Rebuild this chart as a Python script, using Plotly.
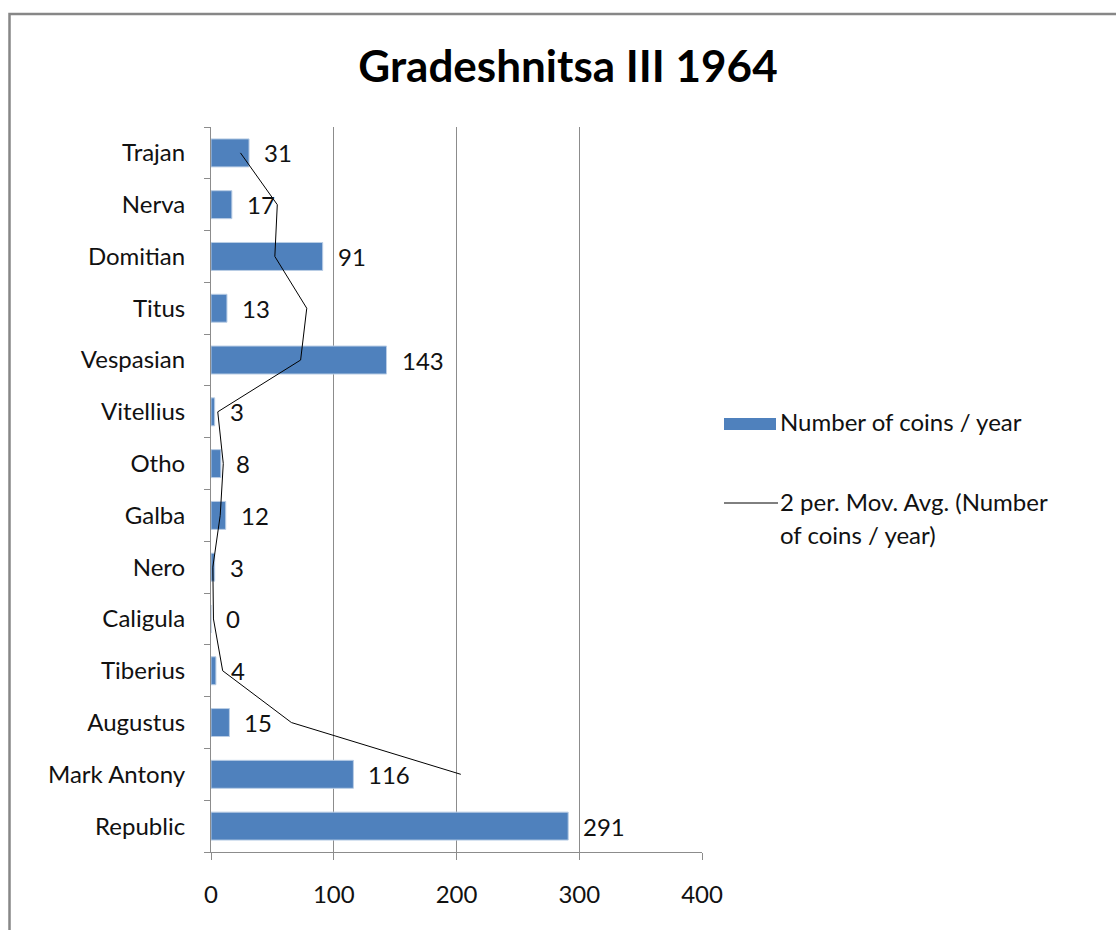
import plotly.graph_objects as go

# Coin finds per reign, listed bottom-to-top as drawn on the category axis
reigns = ["Republic", "Mark Antony", "Augustus", "Tiberius", "Caligula", "Nero",
          "Galba", "Otho", "Vitellius", "Vespasian", "Titus", "Domitian",
          "Nerva", "Trajan"]
coins_per_year = [291, 116, 15, 4, 0, 3, 12, 8, 3, 143, 13, 91, 17, 31]
x_ticks = [0, 100, 200, 300, 400]

# Two-period moving average trendline (first point has no predecessor)
mov_avg = [(coins_per_year[i - 1] + coins_per_year[i]) / 2
           for i in range(1, len(coins_per_year))]
mov_avg_reigns = reigns[1:]

FONT = "Lato, 'Open Sans', sans-serif"
BAR_BLUE = "#4F81BD"
GRID = "#8C8C8C"
TEXT = "#111111"
FS = 24

fig = go.Figure()

fig.add_trace(go.Bar(
    x=coins_per_year, y=reigns, orientation="h",
    marker=dict(color=BAR_BLUE, line=dict(color="#B9CDE5", width=1)),
    name="Number of coins / year", showlegend=False,
))

fig.add_trace(go.Scatter(
    x=mov_avg, y=mov_avg_reigns, mode="lines",
    line=dict(color="#000000", width=1),
    name="2 per. Mov. Avg. (Number of coins / year)", showlegend=False,
))

# Value labels beside each bar
for reign, v in zip(reigns, coins_per_year):
    fig.add_annotation(x=v, y=reign, text=str(v), showarrow=False,
                       xanchor="left", yanchor="middle", xshift=13,
                       font=dict(family=FONT, size=FS, color=TEXT))

W, H = 1116, 930
L, R, T, B = 211, 702, 127, 852
pw, ph = R - L, B - T


def px(xp):
    return (xp - L) / pw


def py(yp):
    return (B - yp) / ph


# Outer chart frame (runs past the right and bottom edges of the page)
fig.add_shape(type="rect", xref="paper", yref="paper",
              x0=px(9.5), x1=px(1130), y0=py(945), y1=py(14),
              line=dict(color="#878787", width=2.5), layer="below")

# Hand-drawn legend to the right of the plot
fig.add_shape(type="rect", xref="paper", yref="paper",
              x0=px(724), x1=px(776), y0=py(430), y1=py(418),
              fillcolor=BAR_BLUE, line=dict(width=0))
fig.add_annotation(xref="paper", yref="paper", x=px(778), y=py(421),
                   text="Number of coins / year", showarrow=False,
                   xanchor="left", yanchor="middle",
                   font=dict(family=FONT, size=FS, color=TEXT))
fig.add_shape(type="line", xref="paper", yref="paper",
              x0=px(724), x1=px(778), y0=py(503), y1=py(503),
              line=dict(color="#000000", width=1))
fig.add_annotation(xref="paper", yref="paper", x=px(778), y=py(501),
                   text="2 per. Mov. Avg. (Number", showarrow=False,
                   xanchor="left", yanchor="middle",
                   font=dict(family=FONT, size=FS, color=TEXT))
fig.add_annotation(xref="paper", yref="paper", x=px(778), y=py(534),
                   text="of coins / year)", showarrow=False,
                   xanchor="left", yanchor="middle",
                   font=dict(family=FONT, size=FS, color=TEXT))

fig.update_layout(
    width=W, height=H,
    margin=dict(l=L, r=W - R, t=T, b=H - B, pad=0),
    paper_bgcolor="white", plot_bgcolor="white",
    bargap=0.46,
    title=dict(text="<b>Gradeshnitsa III 1964</b>", xref="container",
               x=568 / W, xanchor="center",
               y=1 - 67 / H, yanchor="middle",
               font=dict(family=FONT, size=44, color="#000000")),
    font=dict(family=FONT, size=FS, color=TEXT),
    xaxis=dict(range=[0, 400], tickvals=x_ticks, showgrid=True,
               gridcolor=GRID, gridwidth=1, zeroline=False,
               showline=True, linecolor=GRID, linewidth=1,
               ticks="outside", ticklen=7, tickcolor=GRID,
               tickfont=dict(family=FONT, size=FS, color=TEXT),
               ticklabelstandoff=14, fixedrange=True),
    yaxis=dict(type="category", categoryorder="array", categoryarray=reigns,
               range=[-0.5, len(reigns) - 0.5],
               showline=True, linecolor=GRID, linewidth=1,
               ticks="outside", tickson="boundaries", ticklen=6,
               tickcolor=GRID, showgrid=False,
               tickfont=dict(family=FONT, size=FS, color=TEXT),
               ticklabelstandoff=20, fixedrange=True),
)

fig.write_html("out.html")
